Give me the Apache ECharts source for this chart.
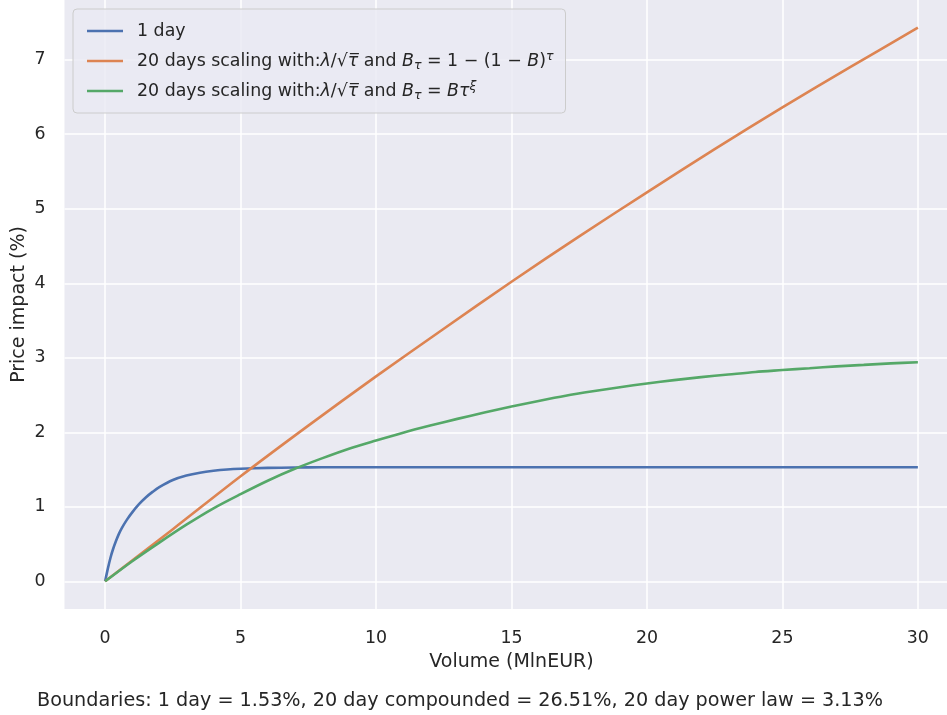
<!DOCTYPE html>
<html><head><meta charset="utf-8">
<script src="https://cdn.jsdelivr.net/npm/echarts@6/dist/echarts.min.js"></script>
<style>html,body{margin:0;padding:0;background:#fff}#c{width:947px;height:715px}</style>
</head><body><div id="c"></div>
<script>
// ---- data ----
const xTicks = [0, 5, 10, 15, 20, 25, 30];
const yTicks = [0, 1, 2, 3, 4, 5, 6, 7];

const blueX = [0, 0.1, 0.2, 0.3, 0.4, 0.5, 0.6, 0.8, 1.0, 1.25, 1.5, 1.75, 2, 2.5, 3, 3.5, 4, 4.5, 5, 6, 7, 8, 10, 15, 20, 25, 30];
const blueY = [0, 0.17, 0.32, 0.44, 0.54, 0.63, 0.705, 0.825, 0.925, 1.035, 1.125, 1.20, 1.265, 1.36, 1.42, 1.458, 1.483, 1.50, 1.51, 1.522, 1.527, 1.53, 1.53, 1.53, 1.53, 1.53, 1.53];

const orangeX = [0, 2.5, 5, 7.5, 10, 12.5, 15, 17.5, 20, 22.5, 25, 27.5, 30];
const orangeY = [0, 0.70, 1.41, 2.09, 2.75, 3.39, 4.02, 4.63, 5.22, 5.80, 6.36, 6.90, 7.43];

const greenX = [0, 1, 2, 3, 4, 5, 6, 7, 8, 9, 10, 11, 12, 13, 14, 15, 16, 17, 18, 19, 20, 21, 22, 23, 24, 25, 26, 27, 28, 29, 30];
const greenY = [0, 0.27, 0.52, 0.76, 0.98, 1.17, 1.35, 1.51, 1.65, 1.78, 1.89, 1.995, 2.09, 2.18, 2.265, 2.345, 2.42, 2.49, 2.55, 2.605, 2.655, 2.70, 2.74, 2.775, 2.81, 2.835, 2.86, 2.885, 2.905, 2.925, 2.94];

const seriesNames = ['1 day',
  '20 days scaling with:λ/√τ and Bτ = 1 − (1 − B)τ',
  '20 days scaling with:λ/√τ and Bτ = Bτξ'];
const legendRich = {};
legendRich[seriesNames[0]] = '1 day';
legendRich[seriesNames[1]] = '20 days scaling with:{i|λ}/√{i|τ\u0305} and {i|B}{sub|τ} = 1 − (1 − {i|B}){sup|τ}';
legendRich[seriesNames[2]] = '20 days scaling with:{i|λ}/√{i|τ\u0305} and {i|B}{sub|τ} = {i|Bτ}{sup|ξ}';

const bottomText = 'Boundaries: 1 day = 1.53%, 20 day compounded = 26.51%, 20 day power law = 3.13%';

const zip = (xs, ys) => xs.map((x, i) => [x, ys[i]]);
const FONT = 'DejaVu Sans';
const TXT = '#262626';

const chart = echarts.init(document.getElementById('c'), null, {renderer: 'canvas'});
chart.setOption({
  animation: false,
  backgroundColor: '#ffffff',
  grid: {
    left: 64.5, top: 0, width: 894, height: 609,
    show: true, backgroundColor: '#EAEAF2', borderWidth: 0,
    containLabel: false, outerBoundsMode: 'none'
  },
  xAxis: {
    type: 'value', min: -1.5, max: 31.5,
    name: 'Volume (MlnEUR)', nameLocation: 'middle', nameGap: 44, nameMoveOverlap: false,
    nameTextStyle: {fontFamily: FONT, fontSize: 19, color: TXT},
    axisLine: {show: false},
    axisTick: {show: false, customValues: xTicks},
    axisLabel: {customValues: xTicks, margin: 21, fontFamily: FONT, fontSize: 17.4, color: TXT},
    splitLine: {show: true, lineStyle: {color: '#ffffff', width: 1.5}}
  },
  yAxis: {
    type: 'value', min: -0.3715, max: 7.8015,
    name: 'Price impact (%)', nameLocation: 'middle', nameGap: 36, nameRotate: 90, nameMoveOverlap: false,
    nameTextStyle: {fontFamily: FONT, fontSize: 19, color: TXT},
    axisLine: {show: false},
    axisTick: {show: false, customValues: yTicks},
    axisLabel: {customValues: yTicks, margin: 19, fontFamily: FONT, fontSize: 17.4, color: TXT},
    splitLine: {show: true, lineStyle: {color: '#ffffff', width: 1.5}}
  },
  legend: {
    orient: 'vertical', left: 73, top: 9,
    padding: [11, 12, 11, 14],
    itemGap: 8, itemWidth: 36, itemHeight: 2.6,
    icon: 'rect',
    backgroundColor: 'rgba(234,234,242,0.8)', borderColor: '#cccccc', borderWidth: 1, borderRadius: 4,
    data: seriesNames,
    formatter: n => legendRich[n],
    textStyle: {
      fontFamily: FONT, fontSize: 17.4, color: TXT, lineHeight: 22, padding: [0, 0, 0, 9],
      rich: {
        i: {fontFamily: FONT, fontStyle: 'italic', fontSize: 17.4, color: TXT, lineHeight: 22},
        sub: {fontFamily: FONT, fontStyle: 'italic', fontSize: 12.5, color: TXT, lineHeight: 12, verticalAlign: 'bottom'},
        sup: {fontFamily: FONT, fontStyle: 'italic', fontSize: 12.5, color: TXT, lineHeight: 10, verticalAlign: 'top'}
      }
    }
  },
  graphic: [{
    type: 'text', left: 37, top: 692,
    style: {text: bottomText, fontFamily: FONT, fontSize: 19.2, fill: TXT}
  }],
  series: [
    {name: seriesNames[0], type: 'line', data: zip(blueX, blueY), showSymbol: false, symbol: 'none',
     smooth: 0.3, color: '#4C72B0', lineStyle: {width: 2.6, color: '#4C72B0'}},
    {name: seriesNames[1], type: 'line', data: zip(orangeX, orangeY), showSymbol: false, symbol: 'none',
     smooth: 0.3, color: '#DD8452', lineStyle: {width: 2.6, color: '#DD8452'}},
    {name: seriesNames[2], type: 'line', data: zip(greenX, greenY), showSymbol: false, symbol: 'none',
     smooth: 0.3, color: '#55A868', lineStyle: {width: 2.6, color: '#55A868'}}
  ]
});
</script></body></html>
